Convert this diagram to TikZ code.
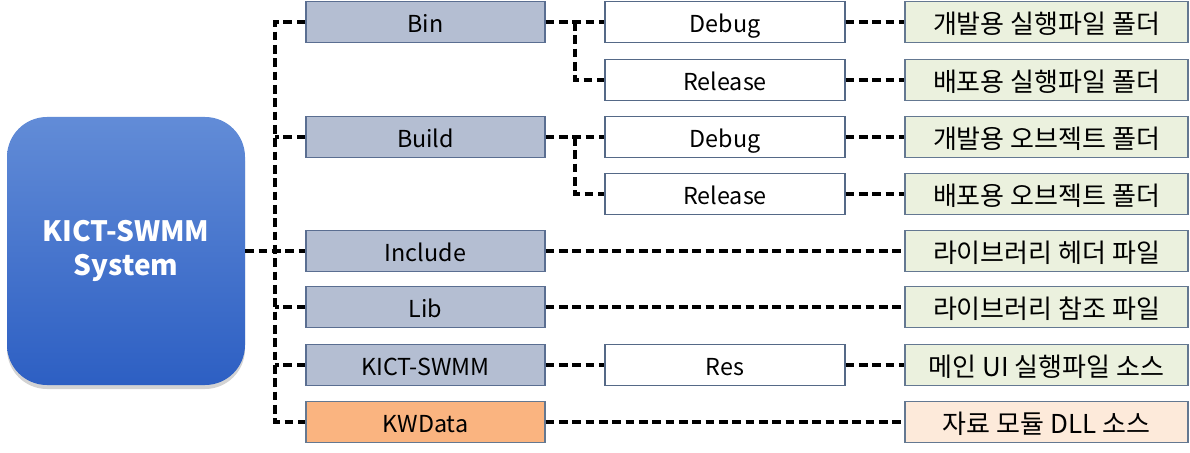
\documentclass[tikz,border=0pt]{standalone}
\usepackage{fontspec}
\setmainfont{Noto Sans CJK KR}
\usetikzlibrary{shadows,calc}
\definecolor{midfill}{RGB}{180,190,210}
\definecolor{midline}{RGB}{90,110,145}
\definecolor{subline}{RGB}{85,105,135}
\definecolor{greenfill}{RGB}{235,241,222}
\definecolor{greenline}{RGB}{100,120,145}
\definecolor{orangefill}{RGB}{250,180,128}
\definecolor{peachfill}{RGB}{253,234,218}
\definecolor{bluetop}{RGB}{98,140,215}
\definecolor{bluebot}{RGB}{45,95,195}
\tikzset{
  base/.style={draw, line width=0.9pt, minimum height=30.5pt, inner sep=0pt, font=\fontsize{17.5}{20}\selectfont, text=black, text height=15.8pt, text depth=0pt},
  midbox/.style={base, fill=midfill, draw=midline, minimum width=179.25pt},
  subbox/.style={base, fill=white, draw=subline, minimum width=180pt},
  descbox/.style={base, fill=greenfill, draw=greenline, minimum width=212.25pt, font=\fontsize{19.5}{22}\selectfont, text height=17pt},
  conn/.style={draw=black, line width=2.4pt, dash pattern=on 6.5pt off 3.5pt},
}
\begin{document}
\begin{tikzpicture}[x=0.75pt,y=-0.75pt]
\useasboundingbox (0,0) rectangle (1190,453);
% root
\node[rounded corners=30pt, minimum width=178.5pt, minimum height=201pt, top color=bluetop, bottom color=bluebot, draw=none,
  drop shadow={shadow xshift=0pt, shadow yshift=-3pt, opacity=0.35}, text=white, font=\fontsize{21}{25}\selectfont\bfseries, align=center]
  (root) at (126,251) {KICT-SWMM\\System};
% middle column
\node[midbox] (bin) at (425.5,22) {Bin};
\node[midbox] (build) at (425.5,137) {Build};
\node[midbox] (inc) at (425.5,251) {Include};
\node[midbox] (lib) at (425.5,307) {Lib};
\node[midbox] (kict) at (425.5,365) {KICT-SWMM};
\node[midbox, fill=orangefill, draw=greenline] (kw) at (425.5,422) {KWData};
% third column
\node[subbox] (bdbg) at (725,22) {Debug};
\node[subbox] (brel) at (725,80) {Release};
\node[subbox] (udbg) at (725,137) {Debug};
\node[subbox] (urel) at (725,194) {Release};
\node[subbox] (res) at (725,365) {Res};
% fourth column
\node[descbox] (d1) at (1046.5,22) {개발용 실행파일 폴더};
\node[descbox] (d2) at (1046.5,80) {배포용 실행파일 폴더};
\node[descbox] (d3) at (1046.5,137) {개발용 오브젝트 폴더};
\node[descbox] (d4) at (1046.5,194) {배포용 오브젝트 폴더};
\node[descbox] (d5) at (1046.5,251) {라이브러리 헤더 파일};
\node[descbox] (d6) at (1046.5,307) {라이브러리 참조 파일};
\node[descbox] (d7) at (1046.5,365) {메인 UI 실행파일 소스};
\node[descbox, fill=peachfill] (d8) at (1046.5,422) {자료 모듈 DLL 소스};
% bus coordinates
\coordinate (bus) at (275,251);
\coordinate (s1) at (575,22);
\coordinate (s2) at (575,137);
% connectors
\draw[conn] (bin.west) -| (bus) |- (kw.west);
\draw[conn] (build.west) -- (build.west -| bus);
\draw[conn] (lib.west) -- (lib.west -| bus);
\draw[conn] (kict.west) -- (kict.west -| bus);
\draw[conn] (root.east) -- (inc.west);
\draw[conn] (bin.east) -- (bdbg.west);
\draw[conn] (s1) |- (brel.west);
\draw[conn] (build.east) -- (udbg.west);
\draw[conn] (s2) |- (urel.west);
\draw[conn] (bdbg.east) -- (d1.west);
\draw[conn] (brel.east) -- (d2.west);
\draw[conn] (udbg.east) -- (d3.west);
\draw[conn] (urel.east) -- (d4.west);
\draw[conn] (inc.east) -- (d5.west);
\draw[conn] (lib.east) -- (d6.west);
\draw[conn] (kict.east) -- (res.west);
\draw[conn] (res.east) -- (d7.west);
\draw[conn] (kw.east) -- (d8.west);
\end{tikzpicture}
\end{document}
